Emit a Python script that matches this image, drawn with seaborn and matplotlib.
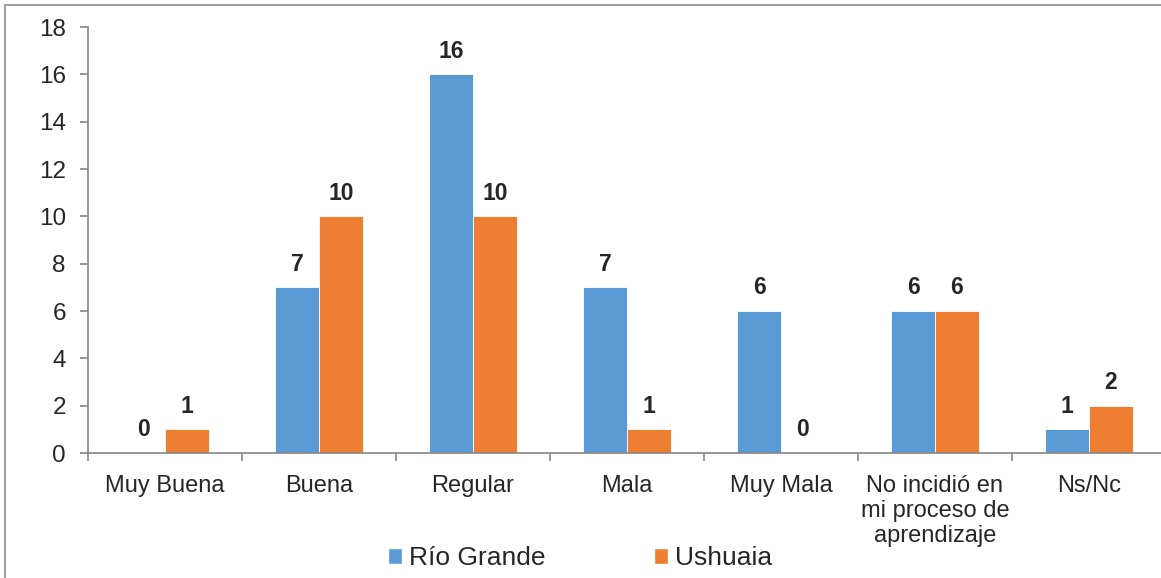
#Import packages
import numpy as np
import pandas as pd
import matplotlib.pyplot as plt
import seaborn as sns
from matplotlib.patches import Patch, Rectangle

#Data
categorias = ["Muy Buena", "Buena", "Regular", "Mala", "Muy Mala",
              "No incidió en\nmi proceso de\naprendizaje", "Ns/Nc"]
rio_grande = [0, 7, 16, 7, 6, 6, 1]
ushuaia = [1, 10, 10, 1, 0, 6, 2]
series = ["Río Grande", "Ushuaia"]
colores = ["#5B9BD5", "#ED7D31"]
y_ticks = list(range(0, 19, 2))

#Long form table for seaborn
df = pd.DataFrame({
    "Categoria": categorias * 2,
    "Valor": rio_grande + ushuaia,
    "Serie": [series[0]] * len(categorias) + [series[1]] * len(categorias),
})

#Style and font (after set_style)
sns.set_style("white")
plt.rcParams["font.family"] = ["Liberation Sans", "DejaVu Sans"]

W, H = 1161, 578
fig = plt.figure(figsize=(W / 100, H / 100), dpi=100)
ax = fig.add_axes([88 / W, 1 - 453 / H, (1166 - 88) / W, (453 - 27) / H])

#Grouped bars
sns.barplot(data=df, x="Categoria", y="Valor", hue="Serie",
            palette=colores, width=0.57, saturation=1,
            edgecolor="white", linewidth=0.6, ax=ax, legend=False)

#Value labels over the bars
for cont in ax.containers:
    for bar in cont:
        h = bar.get_height()
        ax.annotate(f"{h:.0f}", (bar.get_x() + bar.get_width() / 2, h),
                    xytext=(0, 12), textcoords="offset points",
                    ha="center", va="baseline",
                    fontsize=16.5, fontweight="bold")

#Axes
gris = "#868686"
ax.set_ylim(0, 18)
ax.set_yticks(y_ticks)
ax.set_xlim(-0.5, 6.5)
ax.set_xlabel("")
ax.set_ylabel("")
for lado in ["top", "right"]:
    ax.spines[lado].set_visible(False)
for lado in ["left", "bottom"]:
    ax.spines[lado].set_color(gris)
    ax.spines[lado].set_linewidth(1.2)

ax.tick_params(axis="y", left=True, length=6, width=1.2, color=gris,
               labelsize=17.5, pad=10)
ax.set_xticks(np.arange(-0.5, 7, 1), minor=True)
ax.tick_params(axis="x", which="minor", bottom=True, length=6, width=1.2,
               color=gris)
ax.tick_params(axis="x", which="major", bottom=False, length=0,
               labelsize=17, pad=16)
for lbl in ax.get_xticklabels():
    lbl.set_linespacing(1.17)

#Legend at the bottom
handles = [Patch(facecolor=c, label=s) for c, s in zip(colores, series)]
fig.legend(handles=handles, loc="center",
           bbox_to_anchor=(580 / W, 1 - 558 / H), ncol=2, frameon=False,
           fontsize=19, handlelength=0.55, handleheight=0.55,
           handletextpad=0.25, columnspacing=4.1)

#Thin border around the chart area
fig.patches.append(Rectangle((5 / W, -0.1), 1.2, 1 - 5 / H + 0.1,
                             transform=fig.transFigure, fill=False,
                             edgecolor="#8c8c8c", linewidth=1.2))

#Save
fig.savefig("out.png", dpi=100)
